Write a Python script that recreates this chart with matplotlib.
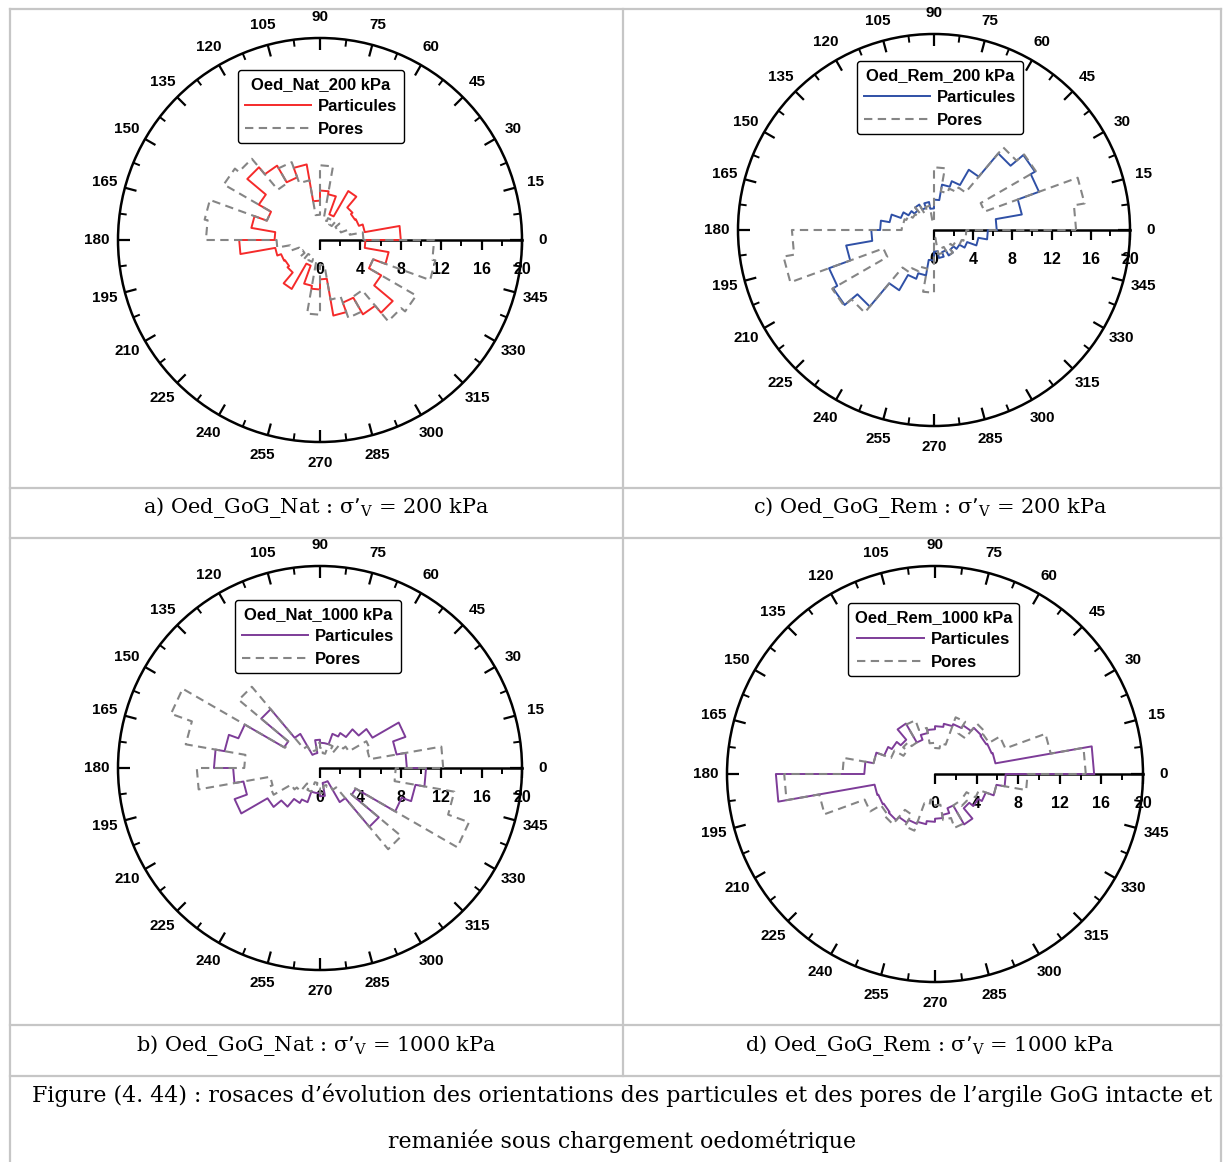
import numpy as np
import matplotlib
matplotlib.use("Agg")
import matplotlib.pyplot as plt
from matplotlib.lines import Line2D

W, H = 1224, 1162

# ---------------- data (10 degree bins from 0 to 180, mirrored to 180-360) -------------
a_particules = [8.0, 4.5, 4.1, 4.0, 4.2, 5.6, 2.7, 4.6, 4.9, 3.9, 7.6, 6.6, 8.5, 9.4, 7.0, 5.6, 6.9, 4.5]
a_pores      = [4.3, 3.0, 2.2, 2.0, 2.5, 1.8, 2.3, 2.0, 7.4, 2.5, 6.0, 8.2, 6.5, 10.5, 11.0, 5.6, 11.6, 11.3]

c_particules = [6.4, 9.1, 11.4, 11.9, 10.2, 7.1, 5.3, 4.7, 3.1, 2.2, 2.9, 2.4, 3.0, 2.6, 3.0, 3.6, 4.6, 5.5]
c_pores      = [14.5, 15.6, 5.5, 12.0, 11.0, 5.0, 4.5, 4.0, 6.4, 0.8, 2.5, 2.0, 3.0, 2.2, 2.5, 3.0, 3.2, 3.3]

b_particules = [8.6, 7.7, 9.0, 6.0, 5.0, 4.0, 3.6, 2.5, 2.5, 2.8, 1.5, 1.5, 3.9, 7.6, 4.1, 8.6, 9.6, 10.5]
b_pores      = [12.2, 5.0, 5.3, 3.3, 3.0, 2.0, 2.5, 1.5, 2.0, 2.5, 1.8, 2.0, 2.5, 10.5, 4.0, 15.7, 13.5, 7.5]

d_particules = [15.3, 5.9, 5.8, 5.7, 5.8, 5.4, 5.1, 4.9, 4.6, 4.3, 4.0, 3.5, 5.6, 4.3, 4.8, 5.2, 6.0, 6.8]
d_pores      = [14.5, 11.3, 7.2, 6.0, 6.3, 4.5, 5.8, 3.0, 2.5, 3.0, 4.5, 5.5, 3.5, 4.0, 3.5, 4.5, 6.0, 8.9]

angle_labels = list(range(0, 360, 15))
radial_labels = [0, 4, 8, 12, 16, 20]

titles = ["Oed_Nat_200 kPa", "Oed_Rem_200 kPa", "Oed_Nat_1000 kPa", "Oed_Rem_1000 kPa"]
captions = ["a) Oed_GoG_Nat : \u03c3\u2019$_\\mathregular{V}$ = 200 kPa",
            "c) Oed_GoG_Rem : \u03c3\u2019$_\\mathregular{V}$ = 200 kPa",
            "b) Oed_GoG_Nat : \u03c3\u2019$_\\mathregular{V}$ = 1000 kPa",
            "d) Oed_GoG_Rem : \u03c3\u2019$_\\mathregular{V}$ = 1000 kPa"]
fig_caption = ["Figure (4. 44) : rosaces d\u2019\u00e9volution des orientations des particules et des pores de l\u2019argile GoG intacte et",
               "remani\u00e9e sous chargement oedom\u00e9trique"]

RED = "#f52a2a"
BLUE = "#2f50a6"
PURPLE = "#7d3c98"
GRAY = "#858585"

plt.rcParams["font.family"] = ["Liberation Sans", "DejaVu Sans"]

fig = plt.figure(figsize=(W / 100, H / 100), dpi=100)
fig.patch.set_facecolor("white")

bg = fig.add_axes([0, 0, 1, 1])
bg.set_xlim(0, W)
bg.set_ylim(H, 0)
bg.axis("off")

# table grid
tc = "#c6c6c6"
tlw = 1.6
bg.plot([10, 10], [9, H], color=tc, lw=tlw)
bg.plot([1221, 1221], [9, H], color=tc, lw=tlw)
bg.plot([10, 1221], [9, 9], color=tc, lw=tlw)
bg.plot([623, 623], [9, 1076], color=tc, lw=tlw)
for yy in [488, 538, 1025, 1076]:
    bg.plot([10, 1221], [yy, yy], color=tc, lw=tlw)

serif = ["DejaVu Serif"]
cap_pos = [(316, 507), (930, 507), (316, 1046), (930, 1046)]
for (x, y), t in zip(cap_pos, captions):
    bg.text(x, y, t, ha="center", va="center", fontsize=15, family=serif)
bg.text(622, 1095, fig_caption[0], ha="center", va="center", fontsize=15.9, family=serif)
bg.text(622, 1141, fig_caption[1], ha="center", va="center", fontsize=15.9, family=serif)


def outline(vals):
    full = list(vals) + list(vals)
    th, rr = [], []
    for i, r in enumerate(full):
        th += [np.deg2rad(i * 10), np.deg2rad((i + 1) * 10)]
        rr += [r, r]
    th.append(th[0])
    rr.append(rr[0])
    return th, rr


def rose(cx, cy, R, part, pore, color, title, leg_xy):
    ax = fig.add_axes([(cx - R) / W, (H - cy - R) / H, 2 * R / W, 2 * R / H],
                      projection="polar")
    ax.set_ylim(0, 20)
    ax.set_yticks([])
    ax.grid(False)
    ax.spines["polar"].set_linewidth(1.8)
    ax.set_xticks(np.deg2rad(angle_labels))
    ax.set_xticklabels([str(a) for a in angle_labels], fontsize=11, fontweight="bold")
    ax.tick_params(axis="x", which="major", length=0, pad=8)

    px = R / 20.0
    # ring tick marks (inward)
    ax.vlines(np.deg2rad(angle_labels), 20 - 12 / px, 20, color="black", lw=1.6,
              zorder=2, clip_on=False)
    ax.vlines(np.deg2rad(np.arange(7.5, 360, 15)), 20 - 7 / px, 20, color="black",
              lw=1.4, zorder=2, clip_on=False)

    # radial axis along 0 degrees
    rt = np.arange(0, 21, 2)
    ax.plot([0, 0], [0, 20], color="black", lw=1.8, zorder=2, clip_on=False)
    major = [r for r in rt if r % 4 == 0]
    minor = [r for r in rt if r % 4 != 0]
    ax.plot(np.zeros(len(major)), major, ls="none", marker=3, ms=7.5, mew=1.6,
            color="black", zorder=2, clip_on=False)
    ax.plot(np.zeros(len(minor)), minor, ls="none", marker=3, ms=4, mew=1.4,
            color="black", zorder=2, clip_on=False)
    for r in radial_labels:
        ax.annotate(str(r), xy=(0, r), xytext=(0, -21), textcoords="offset points",
                    ha="center", va="center", fontsize=11.5, fontweight="bold",
                    annotation_clip=False)

    th, rr = outline(part)
    ax.plot(th, rr, color=color, lw=1.4, zorder=3)
    th, rr = outline(pore)
    ax.plot(th, rr, color=GRAY, lw=1.5, ls=(0, (4, 2.6)), zorder=4)

    handles = [Line2D([], [], color=color, lw=1.4),
               Line2D([], [], color=GRAY, lw=1.5, ls=(0, (4, 2.6)))]
    leg = fig.legend(handles, ["Particules", "Pores"], loc="upper left",
                     bbox_to_anchor=(leg_xy[0] / W, 1 - leg_xy[1] / H),
                     bbox_transform=fig.transFigure,
                     title=title, title_fontproperties={"weight": "bold", "size": 12},
                     prop={"weight": "bold", "size": 12}, frameon=True, fancybox=True,
                     edgecolor="black", framealpha=1, handlelength=4.0,
                     borderpad=0.4, labelspacing=0.45, handletextpad=0.4,
                     borderaxespad=0)
    leg.get_frame().set_linewidth(1.0)
    return ax


rose(320, 240, 202, a_particules, a_pores, RED, titles[0], (238, 70))
rose(934, 230, 196, c_particules, c_pores, BLUE, titles[1], (857, 61))
rose(320, 768, 202, b_particules, b_pores, PURPLE, titles[2], (235, 600))
rose(935, 774, 208, d_particules, d_pores, PURPLE, titles[3], (848, 603))

fig.savefig("out.png", dpi=100)
